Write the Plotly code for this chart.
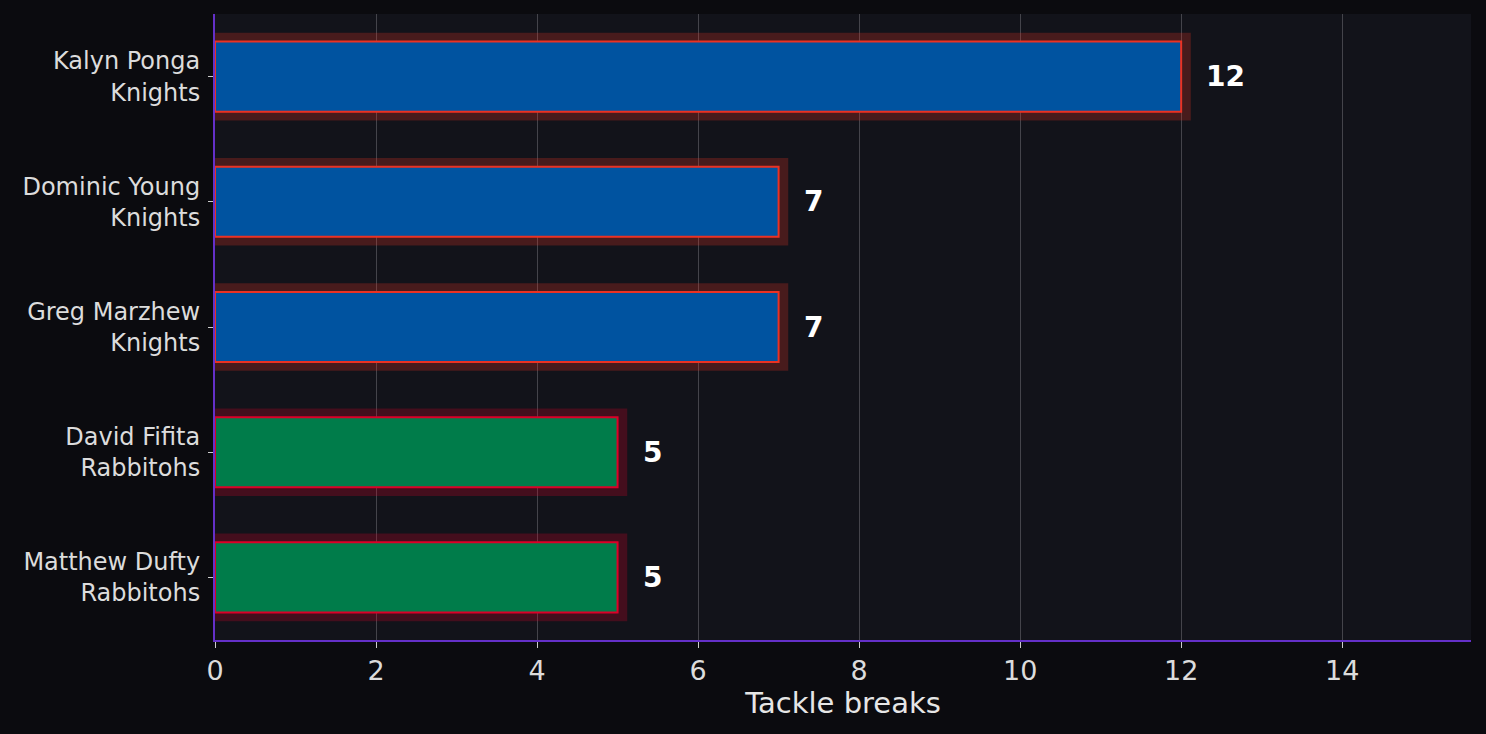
import plotly.graph_objects as go

# tackle breaks, top to bottom
players = ["Kalyn Ponga", "Dominic Young", "Greg Marzhew", "David Fifita", "Matthew Dufty"]
teams = ["Knights", "Knights", "Knights", "Rabbitohs", "Rabbitohs"]
tackle_breaks = [12, 7, 7, 5, 5]

team_fill = {"Knights": "#0053a0", "Rabbitohs": "#007c4a"}
team_edge = {"Knights": "#eb3223", "Rabbitohs": "#dc0028"}
team_glow = {"Knights": "rgba(235,50,35,0.25)", "Rabbitohs": "rgba(220,0,40,0.25)"}

labels = [f"{p}<br>{t}" for p, t in zip(players, teams)]

fig = go.Figure()

# soft glow behind each bar
fig.add_trace(go.Bar(
    x=[v + 0.12 for v in tackle_breaks],
    y=labels,
    orientation="h",
    width=0.7,
    marker=dict(color=[team_glow[t] for t in teams], line=dict(width=0)),
    hoverinfo="skip",
    showlegend=False,
))

fig.add_trace(go.Bar(
    x=tackle_breaks,
    y=labels,
    orientation="h",
    width=0.56,
    marker=dict(
        color=[team_fill[t] for t in teams],
        line=dict(color=[team_edge[t] for t in teams], width=2),
    ),
    showlegend=False,
))

for lab, v in zip(labels, tackle_breaks):
    fig.add_annotation(
        x=v, y=lab, text=f"<b>{v}</b>", showarrow=False,
        xanchor="left", xshift=23,
        font=dict(size=28, color="#ffffff", family="DejaVu Sans"),
    )

fig.update_layout(
    barmode="overlay",
    width=1486, height=734,
    margin=dict(l=215, r=15, t=14, b=94),
    paper_bgcolor="#0b0b0f",
    plot_bgcolor="#12131a",
    font=dict(family="DejaVu Sans", color="#dcdcdc"),
)

fig.update_xaxes(
    range=[0, 15.6], dtick=2,
    showgrid=True, gridcolor="#44444b", gridwidth=1.3,
    zeroline=False,
    showline=True, linecolor="#6430c8", linewidth=2,
    ticks="outside", ticklen=6, tickcolor="#cccccc",
    tickfont=dict(size=27, color="#dcdcdc"),
    title=dict(text="Tackle breaks", font=dict(size=29, color="#e6e6e6"), standoff=4),
)
fig.update_yaxes(
    autorange="reversed",
    showgrid=False,
    showline=True, linecolor="#6430c8", linewidth=2,
    ticks="outside", ticklen=5, tickcolor="#cccccc",
    tickfont=dict(size=24, color="#dcdcdc"),
    ticklabelstandoff=3,
)

fig.write_html("out.html", config={"displayModeBar": False},
               post_script="document.body.style.margin='0';")
